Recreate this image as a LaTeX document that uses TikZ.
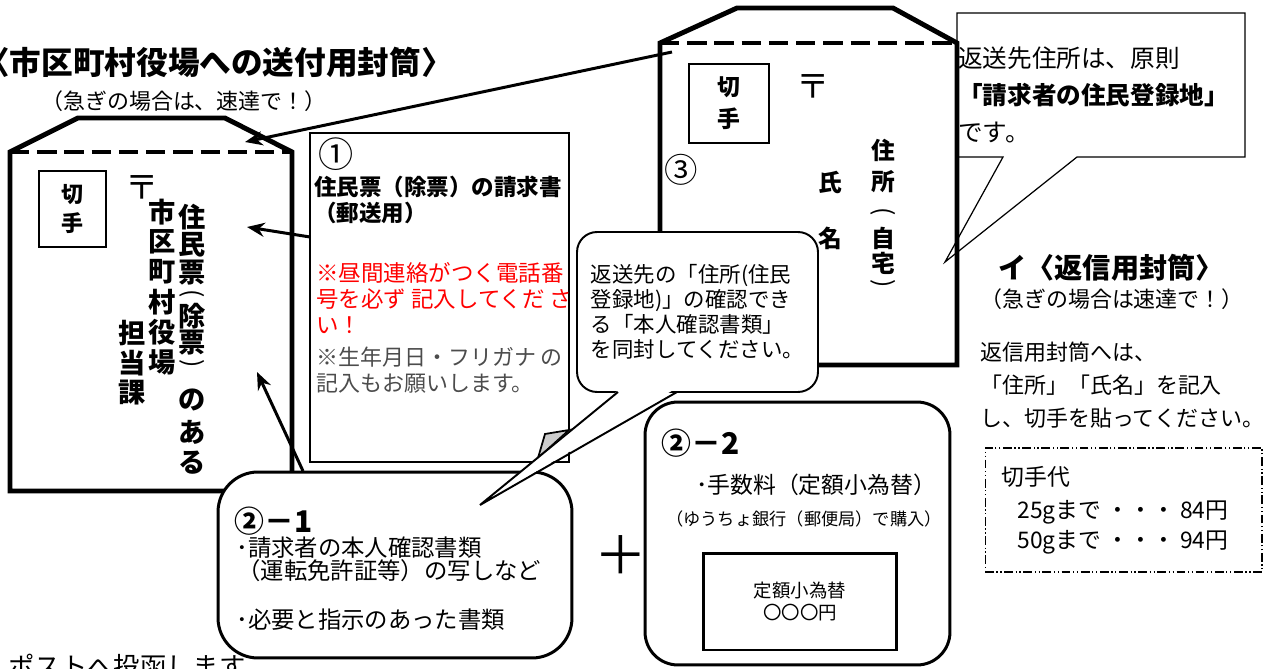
\documentclass[tikz,border=0pt]{standalone}
\usepackage{fontspec}
\setmainfont{Noto Sans CJK JP}
\usetikzlibrary{arrows.meta}
\newcommand{\jfont}[2]{\fontsize{#1}{#2}\selectfont}
\begin{document}
\begin{tikzpicture}[x=0.02cm,y=-0.02cm,
    envline/.style={line width=2.8pt,line join=miter},
    flapdash/.style={line width=2.8pt,dash pattern=on 11pt off 4.5pt},
    stampbox/.style={draw,line width=0.8pt,align=center,inner sep=0pt},
    pointer/.style={line width=1.7pt,-{Stealth[length=10pt,width=8pt]}},
    vchar/.style={inner sep=0pt,font=\bfseries\jfont{15.5}{15.5}},
    vsmall/.style={inner sep=0pt,font=\bfseries\jfont{13.5}{13.5}},
    vparen/.style={inner sep=0pt,rotate=-90,font=\jfont{14}{14}},
    card/.style={draw,line width=1.7pt,fill=white,inner sep=0pt},
    textleft/.style={anchor=west,inner sep=0pt,align=left},
  ]
  \useasboundingbox (0,0) rectangle (1282,669);

  % callout on the return address
  \draw[line width=0.7pt,fill=white] (957,13) -- (1245,13) -- (1245,157) -- (1077,157)
    -- (945,262) -- (1003,157) -- (957,157) -- cycle;
  \node[textleft,font=\jfont{14}{21}] (addrnote) at (958,95)
    {返送先住所は、原則\\\textbf{「請求者の住民登録地」}\\です。};

  % return envelope (3)
  \draw[envline] (660,365) -- (660,43) -- (737,8) -- (893,8) -- (957,43) -- (957,365) -- cycle;
  \draw[flapdash] (660,43) -- (957,43);
  \node[stampbox,minimum width=1.6cm,minimum height=1.58cm,font=\bfseries\jfont{13}{18}] (stampB) at (729,103.5) {切\\手};
  \node[inner sep=0pt,font=\jfont{19}{19}] (postB) at (813,87) {〒};
  \node[inner sep=0pt,font=\jfont{19}{19}] (numC) at (681,170) {③};
  \node[vsmall] (name-1) at (830,182) {氏};
  \node[vsmall] (name-2) at (830,238) {名};
  \foreach \c/\y [count=\i] in {住/150,所/182,自/238,宅/263}
    \node[vsmall] (home-\i) at (883,\y) {\c};
  \node[vparen] (home-open) at (883,212) {(};
  \node[vparen] (home-close) at (883,284) {)};
  \coordinate (envB-in) at (672,52);

  % sending envelope
  \node[textleft,font=\bfseries\jfont{18}{18}] (sendtitle) at (-22,62) {〈市区町村役場への送付用封筒〉};
  \node[inner sep=0pt,font=\jfont{12.5}{12.5}] (sendnote) at (184,101) {（急ぎの場合は、速達で！）};
  \draw[envline] (10,152) -- (78,118) -- (225,118) -- (292,152) -- (292,491) -- (10,491) -- cycle;
  \draw[flapdash] (10,152) -- (292,152);
  \node[stampbox,minimum width=1.34cm,minimum height=1.52cm,font=\bfseries\jfont{12.5}{17}] (stampA) at (72.5,209) {切\\手};
  \node[inner sep=0pt,font=\jfont{19}{19}] (postA) at (142,188) {〒};
  \foreach \c/\y [count=\i] in {住/217,民/245,票/273,除/316,票/343,の/400,あ/432,る/463}
    \node[vchar] (addrA-\i) at (192,\y) {\c};
  \node[vparen] (addrA-open) at (192,294) {(};
  \node[vparen] (addrA-close) at (192,364) {)};
  \foreach \c [count=\i] in {市,区,町,村,役,場}
    \node[vchar] (addrB-\i) at (162,182+\i*30) {\c};
  \foreach \c [count=\i] in {担,当,課}
    \node[vchar] (addrC-\i) at (132,303+\i*30) {\c};
  \coordinate (envA-flap) at (245,142);
  \coordinate (envA-mid) at (247,227);
  \coordinate (envA-low) at (257,372);
  \draw[pointer] (envB-in) -- (envA-flap);

  % request form (1)
  \draw[line width=1.7pt] (310,133) rectangle (569,462);
  \draw[line width=1pt,fill=black!20] (569,430) -- (545,434) -- (538,458) -- cycle;
  \node[inner sep=0pt,font=\jfont{20}{20}] (numA) at (336,154) {①};
  \node[textleft,font=\bfseries\jfont{12.8}{14.5}] (formtitle) at (314,200) {住民票（除票）の請求書\\（郵送用）};
  \node[textleft,text=red,font=\jfont{12.8}{14.8}] (formphone) at (316,298) {※昼間連絡がつく電話番\\号を必ず 記入してくだ さ\\い！};
  \node[textleft,text=black!70,font=\jfont{12.5}{14.8}] (formbirth) at (316,370) {※生年月日・フリガナ の\\記入もお願いします。};
  \coordinate (form-w) at (310,237);
  \draw[pointer] (form-w) -- (envA-mid);

  % identity papers (2)-1
  \node[card,rounded corners=0.8cm,minimum width=7.08cm,minimum height=3.72cm] (idbox) at (395,565) {};
  \node[textleft,font=\bfseries\jfont{17}{17}] (numB1) at (234,521) {②－1};
  \node[textleft,font=\jfont{13.3}{13.3}] (idline1) at (236,548) {･請求者の本人確認書類};
  \node[textleft,font=\jfont{13.3}{13.3}] (idline2) at (237,571) {（運転免許証等）の写しなど};
  \node[textleft,font=\jfont{13.3}{13.3}] (idline3) at (236,620) {･必要と指示のあった書類};
  \coordinate (idbox-top) at (303,471);
  \draw[pointer] (idbox-top) -- (envA-low);

  % speech bubble
  \node[draw,line width=1.1pt,fill=white,rounded corners=0.4cm,minimum width=4.82cm,minimum height=3.2cm,
    align=left,font=\jfont{12.2}{14.2}] (bubble) at (697.5,312)
    {返送先の「住所(住民\\登録地)」の確認でき\\る「本人確認書類」\\を同封してください。};
  \coordinate (bubble-tip) at (480,505);
  \fill[white] (620,389) -- (bubble-tip) -- (675,389) -- cycle;
  \draw[line width=1.1pt,line join=miter] (618,392) -- (bubble-tip) -- (677,392);

  % fee (2)-2
  \node[inner sep=0pt,font=\jfont{30}{30}] (plus) at (621,555) {＋};
  \node[card,rounded corners=0.66cm,minimum width=6.1cm,minimum height=5.26cm] (feebox) at (797.5,533.5) {};
  \node[textleft,font=\bfseries\jfont{17}{17}] (numB2) at (661,443) {②－2};
  \node[inner sep=0pt,font=\jfont{13}{13}] (feeline1) at (816,485) {･手数料（定額小為替）};
  \node[inner sep=0pt,font=\jfont{9.8}{9.8}] (feeline2) at (804,519) {（ゆうちょ銀行（郵便局）で購入）};
  \node[draw,line width=1.7pt,minimum width=3.88cm,minimum height=1.94cm,align=center,
    font=\jfont{10.5}{12.5}] (moneyorder) at (800,601.5) {定額小為替\\〇〇〇円};

  % return envelope notes
  \node[inner sep=0pt,font=\bfseries\jfont{16}{16}] (backtitle) at (1111,268) {イ〈返信用封筒〉};
  \node[inner sep=0pt,font=\jfont{12.5}{12.5}] (backnote) at (1112,299) {（急ぎの場合は速達で！）};
  \node[textleft,font=\jfont{12.5}{18.7}] (backhow) at (980,385) {返信用封筒へは、\\「住所」「氏名」を記入\\し、切手を貼ってください。};
  \node[draw,line width=0.6pt,dash pattern=on 5pt off 1.5pt on 0.7pt off 1.5pt on 0.7pt off 1.5pt,
    minimum width=5.54cm,minimum height=2.48cm] (stampfee) at (1123.5,510) {};
  \node[textleft,font=\jfont{13}{13}] (feehead) at (1001,477) {切手代};
  \node[textleft,font=\jfont{13}{13}] (fee25) at (1017,512) {25gまで ・・・ 84円};
  \node[textleft,font=\jfont{13}{13}] (fee50) at (1017,542) {50gまで ・・・ 94円};

  % posting
  \node[textleft,font=\jfont{15}{15}] (posting) at (8,666) {ポストへ投函します。};
\end{tikzpicture}
\end{document}
